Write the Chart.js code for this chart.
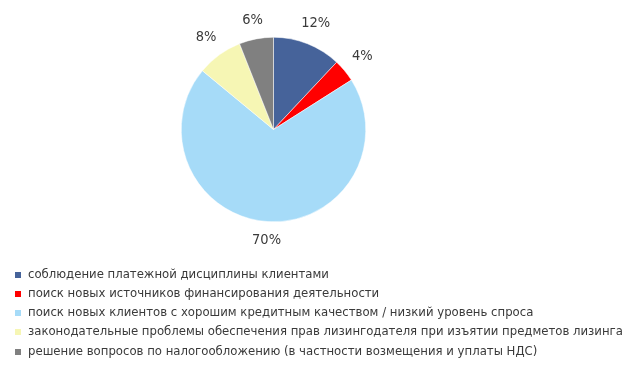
<!DOCTYPE html>
<html>
<head>
<meta charset="utf-8">
<script src="https://cdn.jsdelivr.net/npm/chart.js@4"></script>
<style>
    html, body { margin: 0; padding: 0; background: #fff; }
    #wrap { width: 644px; height: 371px; position: relative; }
</style>
</head>
<body>
<div id="wrap"><canvas id="pie"></canvas></div>
<script>
// Данные диаграммы
const categories = [
    'соблюдение платежной дисциплины клиентами',
    'поиск новых источников финансирования деятельности',
    'поиск новых клиентов с хорошим кредитным качеством / низкий уровень спроса',
    'законодательные проблемы обеспечения прав лизингодателя при изъятии предметов лизинга',
    'решение вопросов по налогообложению (в частности возмещения и уплаты НДС)'
];
const shares = [12, 4, 70, 8, 6];
const colors = ['#46639a', '#ff0000', '#a6dbf8', '#f6f6b4', '#808080'];

const fontFamily = 'Tahoma, "DejaVu Sans Condensed", "DejaVu Sans", sans-serif';
const textColor = '#3a3a3a';

// Подбираем размер шрифта легенды под ширину самой длинной строки
function fitLegendFont(ctx) {
    ctx.font = '12px ' + fontFamily;
    const w = ctx.measureText(categories[3]).width;
    return Math.min(13, 12 * 598 / w);
}

// Подписи процентов снаружи круга
const percentLabels = {
    id: 'percentLabels',
    afterDatasetsDraw(chart) {
        const ctx = chart.ctx;
        const meta = chart.getDatasetMeta(0);
        ctx.save();
        ctx.font = '14.5px ' + fontFamily;
        ctx.fillStyle = textColor;
        ctx.textAlign = 'center';
        ctx.textBaseline = 'middle';
        meta.data.forEach((arc, i) => {
            const p = arc.getProps(['x', 'y', 'startAngle', 'endAngle', 'outerRadius'], true);
            const mid = (p.startAngle + p.endAngle) / 2;
            const text = shares[i] + '%';
            const w = ctx.measureText(text).width;
            const h = 13;
            const ext = Math.abs(Math.cos(mid)) * w / 2 + Math.abs(Math.sin(mid)) * h / 2;
            const d = p.outerRadius + 11 + ext;
            ctx.fillText(text, p.x + Math.cos(mid) * d, p.y + Math.sin(mid) * d);
        });
        ctx.restore();
    }
};

// Легенда под диаграммой
const bottomLegend = {
    id: 'bottomLegend',
    afterDraw(chart) {
        const ctx = chart.ctx;
        const size = fitLegendFont(ctx);
        ctx.save();
        ctx.font = size + 'px ' + fontFamily;
        ctx.textBaseline = 'middle';
        ctx.textAlign = 'left';
        const rowY = [275, 294, 313, 332, 352];
        categories.forEach((label, i) => {
            ctx.fillStyle = colors[i];
            ctx.fillRect(15, rowY[i] - 3, 6, 6);
            ctx.fillStyle = textColor;
            ctx.fillText(label, 28, rowY[i]);
        });
        ctx.restore();
    }
};

const ctx = document.getElementById('pie').getContext('2d');
window.pieChart = new Chart(ctx, {
    type: 'pie',
    data: {
        labels: categories,
        datasets: [{
            data: shares,
            backgroundColor: colors,
            borderColor: '#ffffff',
            borderWidth: 0.5
        }]
    },
    options: {
        responsive: true,
        maintainAspectRatio: false,
        animation: false,
        layout: {
            padding: { top: 37, bottom: 149, left: 181, right: 278 }
        },
        plugins: {
            legend: { display: false },
            tooltip: { enabled: false }
        }
    },
    plugins: [percentLabels, bottomLegend]
});
</script>
</body>
</html>
